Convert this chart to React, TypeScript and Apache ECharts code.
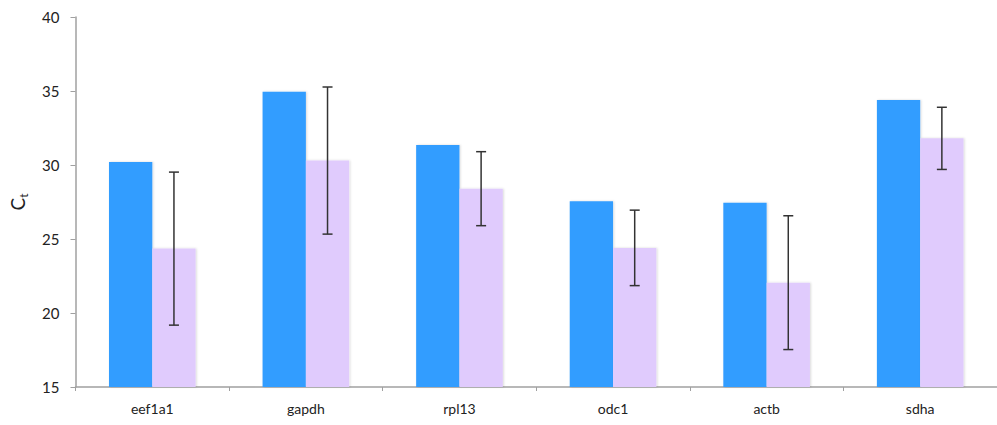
import React, { useEffect, useRef } from "react";
import * as echarts from "echarts";

const categories = ["eef1a1", "gapdh", "rpl13", "odc1", "actb", "sdha"];
const blueValues = [30.2, 34.95, 31.35, 27.55, 27.45, 34.4];
const pinkValues = [24.35, 30.3, 28.4, 24.4, 22.05, 31.8];
const pinkErrors = [5.17, 4.97, 2.5, 2.55, 4.52, 2.1];
const yTicks = [15, 20, 25, 30, 35, 40];

const FONT = "Lato, 'Liberation Sans', sans-serif";

export default function App() {
  const ref = useRef<HTMLDivElement>(null);
  useEffect(() => {
    if (!ref.current) return;
    const chart = echarts.init(ref.current, undefined, { renderer: "svg" });
    const errData = pinkValues.map((v, i) => [i, v - pinkErrors[i], v + pinkErrors[i]]);
    chart.setOption({
      animation: false,
      backgroundColor: "#ffffff",
      grid: { left: 75, top: 17, width: 931, bottom: 38, containLabel: false },
      xAxis: {
        type: "category",
        data: categories,
        axisLine: { lineStyle: { color: "#a0a0a0", width: 1.5 } },
        axisTick: { show: true, length: 4, lineStyle: { color: "#a0a0a0" } },
        axisLabel: { color: "#222", fontSize: 14, fontFamily: FONT, margin: 14 },
      },
      yAxis: {
        type: "value",
        min: yTicks[0],
        max: yTicks[yTicks.length - 1],
        interval: 5,
        splitLine: { show: false },
        axisLine: { show: true, lineStyle: { color: "#a0a0a0", width: 1.5 } },
        axisTick: { show: true, length: 5, lineStyle: { color: "#a0a0a0" } },
        axisLabel: { color: "#222", fontSize: 15, fontFamily: FONT, margin: 16 },
        name: "{a|C}{b|t}",
        nameLocation: "middle",
        nameRotate: 90,
        nameGap: 46,
        nameTextStyle: {
          rich: {
            a: { fontSize: 19, fontFamily: FONT, color: "#222" },
            b: { fontSize: 12, fontFamily: FONT, color: "#222", padding: [12, 0, 0, 0] },
          },
        },
      },
      series: [
        {
          type: "bar",
          data: blueValues,
          barWidth: "28.2%",
          barGap: "0%",
          itemStyle: { color: "#339dff", shadowBlur: 2, shadowColor: "rgba(0,0,0,0.15)", shadowOffsetX: 1 },
        },
        {
          type: "bar",
          data: pinkValues,
          barWidth: "28.2%",
          barGap: "0%",
          itemStyle: { color: "#e0cbfd", shadowBlur: 2, shadowColor: "rgba(0,0,0,0.15)", shadowOffsetX: 1 },
        },
        {
          type: "custom",
          data: errData,
          z: 10,
          renderItem: (params: any, api: any) => {
            const idx = api.value(0);
            const lo = api.coord([idx, api.value(1)]);
            const hi = api.coord([idx, api.value(2)]);
            const cw = api.size([1, 0])[0];
            const x = lo[0] + cw * 0.141;
            const cap = 5;
            const style = { stroke: "#333", lineWidth: 1.5 };
            return {
              type: "group",
              children: [
                { type: "line", shape: { x1: x, y1: hi[1], x2: x, y2: lo[1] }, style },
                { type: "line", shape: { x1: x - cap, y1: hi[1], x2: x + cap, y2: hi[1] }, style },
                { type: "line", shape: { x1: x - cap, y1: lo[1], x2: x + cap, y2: lo[1] }, style },
              ],
            };
          },
        },
      ],
    });
    return () => chart.dispose();
  }, []);
  return (
    <div
      ref={ref}
      style={{ position: "fixed", left: 0, top: 0, width: 997, height: 425 }}
    />
  );
}
